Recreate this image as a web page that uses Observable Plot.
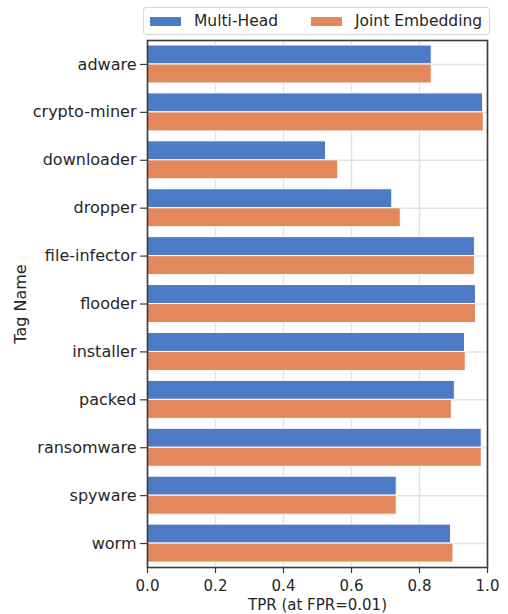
<!DOCTYPE html>
<html>
<head>
<meta charset="utf-8">
<script src="https://cdn.jsdelivr.net/npm/d3@7"></script>
<script src="https://cdn.jsdelivr.net/npm/@observablehq/plot@0.6"></script>
<style>
  html, body { margin: 0; padding: 0; background: #fff; }
  #wrap { position: relative; width: 508px; height: 614px; font-family: "DejaVu Sans", sans-serif; color: #262626; }
  #legend {
    position: absolute; left: 143px; top: 7px; width: 345px; height: 26px;
    border: 1px solid #d6d6d6; border-radius: 3px; background: #fff;
    font-size: 15.5px; box-sizing: content-box; z-index: 2;
  }
  #legend .item { position: absolute; top: 0; height: 26px; display: flex; align-items: center; white-space: nowrap; }
  #legend .sw { display: inline-block; width: 31px; height: 9px; margin-right: 13px; }
</style>
</head>
<body>
<div id="wrap">
  <div id="legend"></div>
  <div id="chart"></div>
</div>
<script>
// Tag categories, top to bottom
const tags = ["adware", "crypto-miner", "downloader", "dropper", "file-infector", "flooder",
              "installer", "packed", "ransomware", "spyware", "worm"];
// Model variants
const series = ["Multi-Head", "Joint Embedding"];
// True positive rate at FPR = 0.01, per tag
const multiHead      = [0.836, 0.987, 0.525, 0.720, 0.963, 0.966, 0.934, 0.904, 0.983, 0.733, 0.893];
const jointEmbedding = [0.836, 0.989, 0.561, 0.745, 0.963, 0.966, 0.936, 0.895, 0.983, 0.733, 0.900];
// Palette for the two variants
const colors = ["#4e7bc6", "#e2885a"];
// X tick values
const xTicks = [0, 0.2, 0.4, 0.6, 0.8, 1.0];

const rows = [];
tags.forEach((tag, i) => {
  rows.push({tag, series: series[0], value: multiHead[i]});
  rows.push({tag, series: series[1], value: jointEmbedding[i]});
});

const ink = "#262626";
const gridColor = "#e3e3e3";

const chart = Plot.plot({
  width: 508,
  height: 614,
  marginTop: 40,
  marginRight: 21,
  marginBottom: 47,
  marginLeft: 147,
  style: {fontFamily: "DejaVu Sans, sans-serif", fontSize: "15.5px", color: ink, background: "#fff", overflow: "visible"},
  x: {domain: [0, 1]},
  y: {domain: series, paddingInner: 0, paddingOuter: 0.25, axis: null},
  fy: {domain: tags, padding: 0, round: false},
  color: {domain: series, range: colors},
  marks: [
    Plot.gridX(xTicks, {stroke: gridColor, strokeOpacity: 1, strokeWidth: 1.5}),
    Plot.gridFy({stroke: gridColor, strokeOpacity: 1, strokeWidth: 1.5}),
    Plot.barX(rows, {x: "value", y: "series", fy: "tag", fill: "series", stroke: "#fff", strokeWidth: 1}),
    Plot.frame({facet: "super", stroke: "#3a3a3a", strokeWidth: 1.6}),
    Plot.axisX({
      ticks: xTicks, tickFormat: d3.format(".1f"), tickSize: 6, tickPadding: 7,
      stroke: "#3a3a3a", strokeWidth: 1.2, fontSize: "15px",
      label: "TPR (at FPR=0.01)", labelAnchor: "center", labelArrow: "none", labelOffset: 42.5
    }),
    Plot.axisFy({
      anchor: "left", tickSize: 7, tickPadding: 4, stroke: "#3a3a3a", strokeWidth: 1.2,
      fontSize: "16px",
      label: "Tag Name", labelAnchor: "center", labelOffset: 133
    })
  ]
});
document.getElementById("chart").appendChild(chart);

// Legend for the two variants
const legend = d3.select("#legend");
const offsets = [6, 167];
series.forEach((s, i) => {
  const item = legend.append("div").attr("class", "item").style("left", offsets[i] + "px");
  item.append("span").attr("class", "sw").style("background", colors[i]);
  item.append("span").text(s);
});
</script>
</body>
</html>
